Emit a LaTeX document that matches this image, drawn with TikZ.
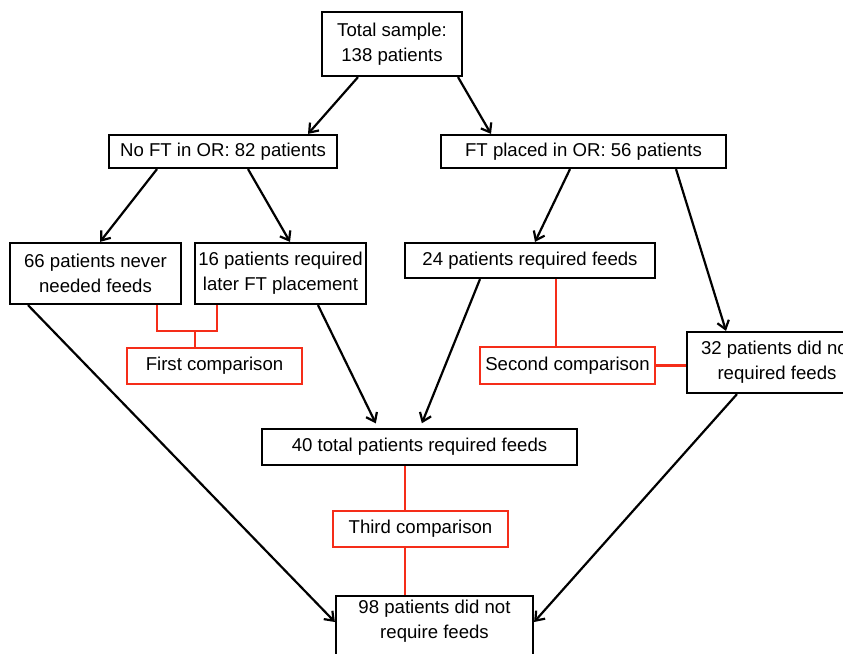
\documentclass[tikz,border=0pt]{standalone}
\usepackage{fontspec}
\setmainfont{Liberation Sans}
\usetikzlibrary{arrows.meta}
\definecolor{cmpred}{RGB}{245,45,25}
\begin{document}
\begin{tikzpicture}[x=1pt,y=-1pt,
  box/.style={draw=black,line width=2.2pt,rectangle,inner sep=0pt,align=center,font=\fontsize{18.6}{25}\selectfont},
  cmpbox/.style={box,draw=cmpred},
  arr/.style={line width=2.2pt,-{Straight Barb[length=8pt,width=12pt,line width=2.2pt]}},
  redline/.style={draw=cmpred,line width=2.2pt}]
\clip (0,0) rectangle (843,653);
\fill[white] (0,0) rectangle (843,653);
\node[box,minimum width=140pt,minimum height=64pt] (total) at (392,44) {Total sample:\\138 patients};
\node[box,minimum width=228pt,minimum height=33pt] (noft) at (223,151.5) {No FT in OR: 82 patients};
\node[box,minimum width=285pt,minimum height=33pt] (ftor) at (583.5,151.5) {FT placed in OR: 56 patients};
\node[box,minimum width=171pt,minimum height=61pt] (n66) at (95.5,273.5) {66 patients never\\needed feeds};
\node[box,minimum width=171pt,minimum height=61pt] (n16) at (280.5,273.5) {16 patients required\\later FT placement};
\node[box,minimum width=250pt,minimum height=35pt] (n24) at (530,260.5) {24 patients required feeds};
\node[box,minimum width=180pt,minimum height=61pt] (n32) at (777,362.5) {32 patients did not\\required feeds};
\node[cmpbox,minimum width=175pt,minimum height=36pt] (first) at (214.5,366) {First comparison};
\node[cmpbox,minimum width=175pt,minimum height=37pt] (second) at (567.5,365.5) {Second comparison};
\node[box,minimum width=315pt,minimum height=36pt] (n40) at (419.5,447) {40 total patients required feeds};
\node[cmpbox,minimum width=175pt,minimum height=36pt] (third) at (420.5,529) {Third comparison};
\node[box,minimum width=197pt,minimum height=72pt] (n98) at (434.5,632) {98 patients did not\\require feeds\\[-8pt]\strut};
% arrows
\draw[arr] ([xshift=-34pt]total.south) -- ([xshift=85pt]noft.north);
\draw[arr] ([xshift=66pt]total.south) -- ([xshift=-92.5pt]ftor.north);
\draw[arr] ([xshift=-66pt]noft.south) -- ([xshift=4.5pt]n66.north);
\draw[arr] ([xshift=25pt]noft.south) -- ([xshift=9.5pt]n16.north);
\draw[arr] ([xshift=-13.5pt]ftor.south) -- ([xshift=5pt]n24.north);
\draw[arr] ([xshift=92.5pt]ftor.south) -- ([xshift=-51pt]n32.north);
\draw[arr] ([xshift=-67.5pt]n66.south) -- ([yshift=10pt]n98.west);
\draw[arr,shorten >=5pt] ([xshift=37.5pt]n16.south) -- ([xshift=-41.5pt]n40.north);
\draw[arr,shorten >=5pt] ([xshift=-50pt]n24.south) -- ([xshift=0.5pt]n40.north);
\draw[arr] ([xshift=-40pt]n32.south) -- ([yshift=10pt]n98.east);
% red comparison lines
\coordinate (j1) at (195,331);
\draw[redline] ([xshift=61.5pt]n66.south) |- (j1) -| ([xshift=-63.5pt]n16.south);
\draw[redline] (j1) -- (j1 |- first.north);
\draw[redline] ([xshift=26pt]n24.south) -- ([xshift=26pt]n24.south |- second.north);
\draw[redline] (second.east) -- (n32.west |- second.east);
\draw[redline] ([xshift=-14.5pt]n40.south) -- ([xshift=-14.5pt]n40.south |- third.north);
\draw[redline] ([xshift=-15.5pt]third.south) -- ([xshift=-15.5pt]third.south |- n98.north);
\end{tikzpicture}
\end{document}
